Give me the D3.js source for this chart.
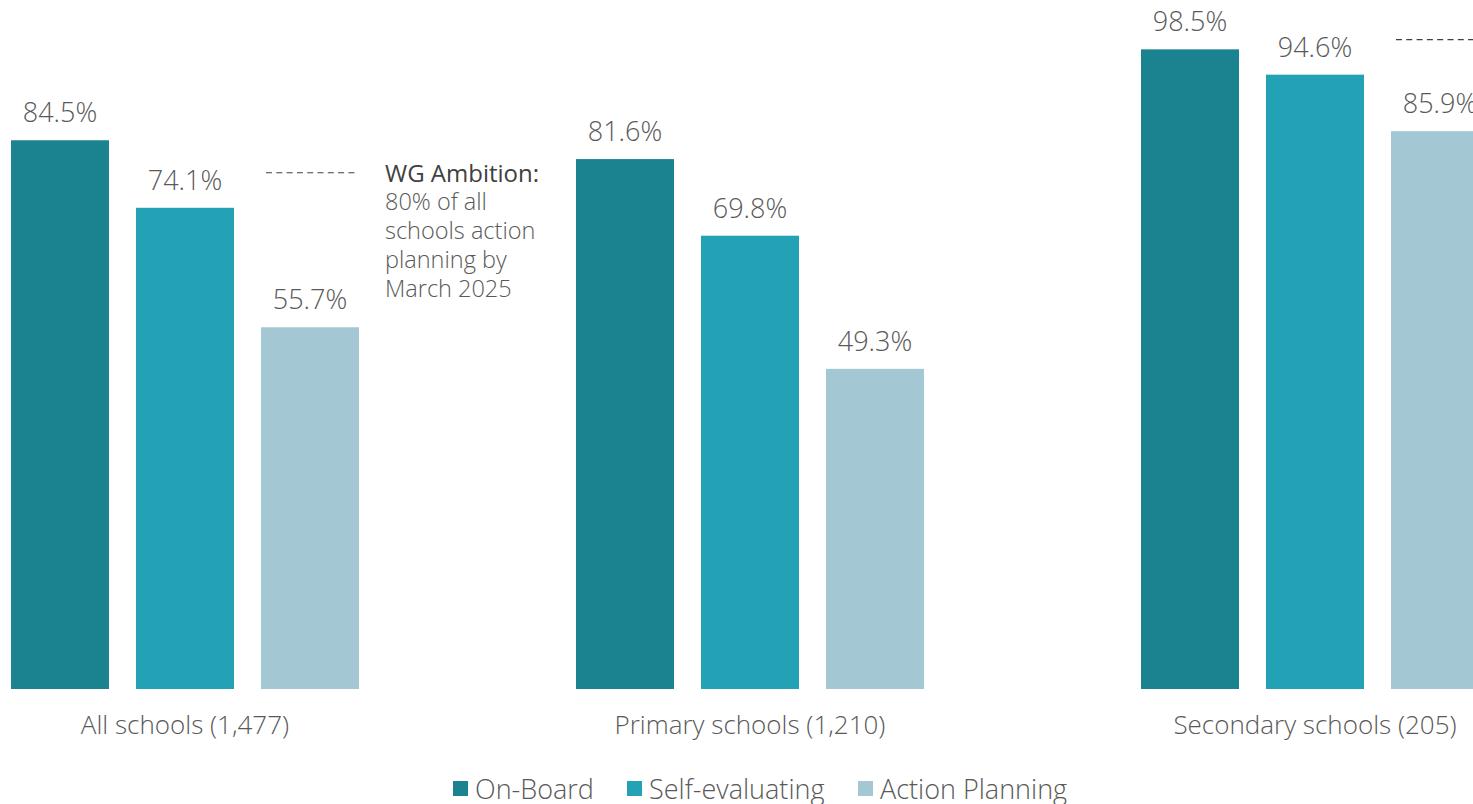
<!DOCTYPE html>
<html>
<head>
<meta charset="utf-8">
<script src="https://cdn.jsdelivr.net/npm/d3@7"></script>
<style>
  body { margin: 0; background: #fff; }
  svg { display: block; font-family: "Open Sans", "Noto Sans", sans-serif; font-weight: 300; }
</style>
</head>
<body>
<div id="chart"></div>
<script>
// chart data
const groups = ["All schools (1,477)", "Primary schools (1,210)", "Secondary schools (205)"];
const series = ["On-Board", "Self-evaluating", "Action Planning"];
const onBoard = [84.5, 81.6, 98.5];
const selfEvaluating = [74.1, 69.8, 94.6];
const actionPlanning = [55.7, 49.3, 85.9];
const ambition = [79.5, null, 100];
const ambitionNote = ["WG Ambition:", "80% of all", "schools action", "planning by", "March 2025"];

const colors = { "On-Board": "#1b8390", "Self-evaluating": "#23a2b6", "Action Planning": "#a4c8d3" };
const width = 1473, height = 804;
const textColor = "#595959";

const svg = d3.select("#chart").append("svg")
  .attr("width", width)
  .attr("height", height);

// group band is wider than the page, the last group runs off the right edge
const x0 = d3.scaleBand().domain(groups).range([-97.5, 1597.5]);
const x1 = d3.scaleBand().domain(series).range([108.5, 456.5]).paddingInner(0.216);
const y = d3.scaleLinear().domain([0, 100]).range([689, 39.6]);

const rows = groups.map((g, i) => ({
  group: g,
  values: [onBoard[i], selfEvaluating[i], actionPlanning[i]].map((v, j) => ({ key: series[j], value: v }))
}));

const g = svg.selectAll("g.group")
  .data(rows)
  .join("g")
  .attr("class", "group")
  .attr("transform", d => `translate(${x0(d.group)},0)`);

g.selectAll("rect")
  .data(d => d.values)
  .join("rect")
  .attr("x", d => x1(d.key))
  .attr("y", d => y(d.value))
  .attr("width", x1.bandwidth())
  .attr("height", d => y(0) - y(d.value))
  .attr("fill", d => colors[d.key]);

g.selectAll("text.value")
  .data(d => d.values)
  .join("text")
  .attr("class", "value")
  .attr("x", d => x1(d.key) + x1.bandwidth() / 2)
  .attr("y", d => y(d.value) - 18)
  .attr("text-anchor", "middle")
  .attr("font-size", 27)
  .attr("fill", textColor)
  .text(d => d.value.toFixed(1) + "%");

// category labels
g.append("text")
  .attr("x", x0.bandwidth() / 2)
  .attr("y", 734)
  .attr("text-anchor", "middle")
  .attr("font-size", 26)
  .attr("fill", textColor)
  .text(d => d.group);

// ambition lines over the action planning bar
const apX = x1("Action Planning");
g.filter((d, i) => ambition[i] != null)
  .append("line")
  .attr("x1", apX + 5)
  .attr("x2", apX + x1.bandwidth() - 1)
  .attr("y1", d => y(ambition[groups.indexOf(d.group)]))
  .attr("y2", d => y(ambition[groups.indexOf(d.group)]))
  .attr("stroke", "#404040")
  .attr("stroke-width", 1.2)
  .attr("stroke-dasharray", "6,4.3");

// note next to the first ambition line
const noteX = x0(groups[0]) + apX + x1.bandwidth() + 26;
const note = svg.append("text")
  .attr("x", noteX)
  .attr("y", y(ambition[0]) + 9)
  .attr("fill", textColor);
note.selectAll("tspan")
  .data(ambitionNote)
  .join("tspan")
  .attr("x", noteX)
  .attr("dy", (d, i) => i == 0 ? 0 : 28.7)
  .attr("font-size", (d, i) => i == 0 ? 24 : 23.5)
  .attr("font-weight", (d, i) => i == 0 ? 400 : 300)
  .attr("fill", (d, i) => i == 0 ? "#404040" : textColor)
  .text(d => d);

// legend
const legendX = [453, 627, 858];
const legend = svg.selectAll("g.legend")
  .data(series)
  .join("g")
  .attr("class", "legend")
  .attr("transform", (d, i) => `translate(${legendX[i]},789)`);

legend.append("rect")
  .attr("x", 0)
  .attr("y", -8)
  .attr("width", 15)
  .attr("height", 15)
  .attr("fill", d => colors[d]);

legend.append("text")
  .attr("x", 22)
  .attr("y", 10)
  .attr("font-size", 27)
  .attr("fill", textColor)
  .text(d => d);
</script>
</body>
</html>
